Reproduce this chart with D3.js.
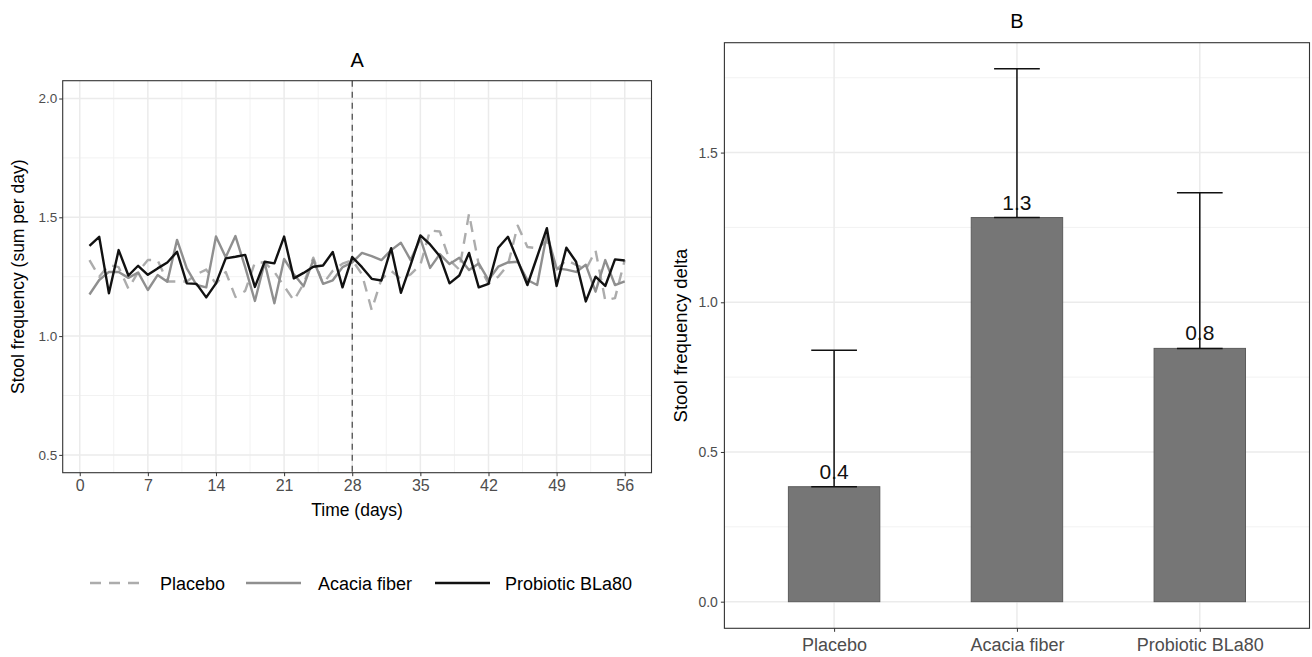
<!DOCTYPE html>
<html>
<head>
<meta charset="utf-8">
<script src="https://cdn.jsdelivr.net/npm/d3@7"></script>
<style>
    body { margin: 0; background: #fff; }
    svg text { font-family: "Liberation Sans", Arial, sans-serif; }
</style>
</head>
<body>
<div class="svg"></div>
<script>
// ---- panel A data: daily stool frequency (sum per day) ----
var days = [1, 2, 3, 4, 5, 6, 7, 8, 9, 10, 11, 12, 13, 14, 15, 16, 17, 18, 19, 20, 21, 22, 23, 24, 25, 26, 27, 28,
    29, 30, 31, 32, 33, 34, 35, 36, 37, 38, 39, 40, 41, 42, 43, 44, 45, 46, 47, 48, 49, 50, 51, 52, 53, 54, 55, 56];
var placeboDaily = [1.32, 1.25, 1.30, 1.29, 1.20, 1.27, 1.32, 1.32, 1.23, 1.23, 1.23, 1.26, 1.28, 1.22,
    1.27, 1.165, 1.19, 1.31, 1.31, 1.27, 1.21, 1.15, 1.22, 1.33, 1.22, 1.275, 1.305, 1.32,
    1.26, 1.11, 1.24, 1.275, 1.24, 1.26, 1.30, 1.445, 1.44, 1.32, 1.28, 1.515, 1.30, 1.22,
    1.25, 1.30, 1.465, 1.375, 1.37, 1.40, 1.28, 1.32, 1.30, 1.28, 1.36, 1.15, 1.16, 1.32];
var acaciaDaily = [1.175, 1.236, 1.27, 1.27, 1.245, 1.268, 1.194, 1.257, 1.229, 1.405, 1.285, 1.215, 1.205, 1.419,
    1.332, 1.421, 1.29, 1.148, 1.31, 1.138, 1.325, 1.26, 1.21, 1.32, 1.22, 1.235, 1.29, 1.31,
    1.35, 1.337, 1.32, 1.362, 1.393, 1.32, 1.41, 1.287, 1.345, 1.303, 1.33, 1.278, 1.306, 1.236,
    1.292, 1.31, 1.313, 1.236, 1.215, 1.43, 1.285, 1.28, 1.27, 1.30, 1.187, 1.32, 1.215, 1.23];
var probioticDaily = [1.38, 1.418, 1.18, 1.362, 1.255, 1.296, 1.258, 1.285, 1.31, 1.355, 1.222, 1.22, 1.163, 1.222,
    1.327, 1.334, 1.342, 1.207, 1.313, 1.306, 1.419, 1.243, 1.266, 1.292, 1.297, 1.354, 1.205, 1.333,
    1.29, 1.241, 1.234, 1.37, 1.182, 1.30, 1.424, 1.386, 1.336, 1.222, 1.255, 1.35, 1.205, 1.22,
    1.372, 1.418, 1.318, 1.215, 1.334, 1.454, 1.211, 1.372, 1.313, 1.146, 1.25, 1.211, 1.323, 1.318];
var interventionDay = 28;
var dayTicks = [0, 7, 14, 21, 28, 35, 42, 49, 56];
var freqTicks = [0.5, 1.0, 1.5, 2.0];

// ---- panel B data: change in stool frequency ----
var groups = ["Placebo", "Acacia fiber", "Probiotic BLa80"];
var deltaMean = [0.384, 1.283, 0.846];
var deltaSd = [0.456, 0.497, 0.520];
var deltaTicks = [0.0, 0.5, 1.0, 1.5];

var width = 1312, height = 657;
var svg;
var font = "Liberation Sans, Arial, sans-serif";

var setupSVG = function () {
    svg = d3.select("div.svg")
        .append("svg")
        .attr("width", width)
        .attr("height", height);
    svg.append("rect").attr("width", width).attr("height", height).attr("fill", "#fff");
};

var drawPanelA = function () {
    var left = 62.7, right = 651.5, top = 80.7, bottom = 472.7;
    // ggplot style 5% expansion around days 1..56 and the 0.5..2 limits
    var x = d3.scaleLinear().domain([-1.75, 58.75]).range([left, right]);
    var y = d3.scaleLinear().domain([0.425, 2.075]).range([bottom, top]);
    var g = svg.append("g");

    // minor grid
    var minorX = dayTicks.slice(0, -1).map(function (d) { return d + 3.5; });
    var minorY = freqTicks.slice(0, -1).map(function (d) { return d + 0.25; });
    g.selectAll("line.minx").data(minorX).enter().append("line")
        .attr("x1", function (d) { return x(d); }).attr("x2", function (d) { return x(d); })
        .attr("y1", top).attr("y2", bottom)
        .style("stroke", "#f2f2f2").style("stroke-width", 1);
    g.selectAll("line.miny").data(minorY).enter().append("line")
        .attr("x1", left).attr("x2", right)
        .attr("y1", function (d) { return y(d); }).attr("y2", function (d) { return y(d); })
        .style("stroke", "#f2f2f2").style("stroke-width", 1);
    // major grid
    g.selectAll("line.majx").data(dayTicks).enter().append("line")
        .attr("x1", function (d) { return x(d); }).attr("x2", function (d) { return x(d); })
        .attr("y1", top).attr("y2", bottom)
        .style("stroke", "#ebebeb").style("stroke-width", 1.5);
    g.selectAll("line.majy").data(freqTicks).enter().append("line")
        .attr("x1", left).attr("x2", right)
        .attr("y1", function (d) { return y(d); }).attr("y2", function (d) { return y(d); })
        .style("stroke", "#ebebeb").style("stroke-width", 1.5);

    // intervention marker
    g.append("line")
        .attr("x1", x(interventionDay)).attr("x2", x(interventionDay))
        .attr("y1", top).attr("y2", bottom)
        .style("stroke", "#444").style("stroke-width", 1.2)
        .style("stroke-dasharray", "6,5");

    var line = d3.line()
        .x(function (d) { return x(d[0]); })
        .y(function (d) { return y(d[1]); });

    var series = [
        {values: placeboDaily, color: "#acacac", dash: "11,8"},
        {values: acaciaDaily, color: "#8f8f8f", dash: null},
        {values: probioticDaily, color: "#111111", dash: null}
    ];
    series.forEach(function (s) {
        g.append("path")
            .datum(d3.zip(days, s.values))
            .attr("d", line)
            .style("fill", "none")
            .style("stroke", s.color)
            .style("stroke-width", 2.4)
            .style("stroke-linejoin", "round")
            .style("stroke-dasharray", s.dash);
    });

    // frame
    g.append("rect")
        .attr("x", left).attr("y", top)
        .attr("width", right - left).attr("height", bottom - top)
        .style("fill", "none").style("stroke", "#333").style("stroke-width", 1.1);

    // axes
    var xAxis = d3.axisBottom(x).tickValues(dayTicks).tickSize(3.5).tickPadding(3);
    var yAxis = d3.axisLeft(y).tickValues(freqTicks).tickFormat(d3.format(".1f")).tickSize(3.5).tickPadding(2);
    var gx = g.append("g").attr("transform", "translate(0," + bottom + ")").call(xAxis);
    var gy = g.append("g").attr("transform", "translate(" + left + ",0)").call(yAxis);
    [gx, gy].forEach(function (a) {
        a.select(".domain").remove();
        a.selectAll(".tick line").style("stroke", "#333");
        a.selectAll("text").style("fill", "#4d4d4d").style("font-family", font);
    });
    gx.selectAll("text").style("font-size", "16px");
    gy.selectAll("text").style("font-size", "13.5px");

    svg.append("text")
        .attr("x", (left + right) / 2).attr("y", 516)
        .attr("text-anchor", "middle")
        .style("font-size", "17.5px")
        .text("Time (days)");
    svg.append("text")
        .attr("transform", "translate(24," + ((top + bottom) / 2) + ") rotate(-90)")
        .attr("text-anchor", "middle")
        .style("font-size", "17.5px")
        .text("Stool frequency (sum per day)");
    svg.append("text")
        .attr("x", (left + right) / 2).attr("y", 67)
        .attr("text-anchor", "middle")
        .style("font-size", "20px")
        .text("A");

    // legend
    var legend = [
        {name: "Placebo", color: "#acacac", dash: "11,8", x0: 90, tx: 160},
        {name: "Acacia fiber", color: "#8f8f8f", dash: null, x0: 246, tx: 318},
        {name: "Probiotic BLa80", color: "#111111", dash: null, x0: 435, tx: 505}
    ];
    legend.forEach(function (l) {
        svg.append("line")
            .attr("x1", l.x0).attr("x2", l.x0 + 55)
            .attr("y1", 583).attr("y2", 583)
            .style("stroke", l.color).style("stroke-width", 2.4)
            .style("stroke-dasharray", l.dash);
        svg.append("text")
            .attr("x", l.tx).attr("y", 589.5)
            .style("font-size", "18px")
            .text(l.name);
    });
};

var drawPanelB = function () {
    var left = 724.4, right = 1309.5, top = 42.7, bottom = 628.3;
    var x = d3.scalePoint().domain(groups).range([left, right]).padding(0.6);
    var y = d3.scaleLinear().domain([-0.0889, 1.867]).range([bottom, top]);
    var step = x.step();
    var g = svg.append("g");
    var data = groups.map(function (name, i) {
        return {name: name, mean: deltaMean[i], sd: deltaSd[i]};
    });

    var minorY = deltaTicks.map(function (d) { return d + 0.25; });
    g.selectAll("line.miny").data(minorY).enter().append("line")
        .attr("x1", left).attr("x2", right)
        .attr("y1", function (d) { return y(d); }).attr("y2", function (d) { return y(d); })
        .style("stroke", "#f2f2f2").style("stroke-width", 1);
    g.selectAll("line.majy").data(deltaTicks).enter().append("line")
        .attr("x1", left).attr("x2", right)
        .attr("y1", function (d) { return y(d); }).attr("y2", function (d) { return y(d); })
        .style("stroke", "#ebebeb").style("stroke-width", 1.5);
    g.selectAll("line.majx").data(groups).enter().append("line")
        .attr("x1", function (d) { return x(d); }).attr("x2", function (d) { return x(d); })
        .attr("y1", top).attr("y2", bottom)
        .style("stroke", "#ebebeb").style("stroke-width", 1.5);

    // bars
    g.selectAll("rect.bar").data(data).enter().append("rect")
        .attr("class", "bar")
        .attr("x", function (d) { return x(d.name) - step * 0.25; })
        .attr("width", step * 0.5)
        .attr("y", function (d) { return y(d.mean); })
        .attr("height", function (d) { return y(0) - y(d.mean); })
        .style("fill", "#767676")
        .style("stroke", "#5c5c5c")
        .style("stroke-width", 1);

    // error bars (mean to mean + sd)
    var cap = step * 0.125;
    data.forEach(function (d) {
        var cx = x(d.name);
        g.append("line")
            .attr("x1", cx).attr("x2", cx)
            .attr("y1", y(d.mean)).attr("y2", y(d.mean + d.sd))
            .style("stroke", "#111").style("stroke-width", 1.5);
        [d.mean, d.mean + d.sd].forEach(function (v) {
            g.append("line")
                .attr("x1", cx - cap).attr("x2", cx + cap)
                .attr("y1", y(v)).attr("y2", y(v))
                .style("stroke", "#111").style("stroke-width", 1.5);
        });
        g.append("text")
            .attr("x", cx).attr("y", y(d.mean) - 8)
            .attr("text-anchor", "middle")
            .style("font-size", "21px")
            .style("fill", "#111")
            .text(d3.format(".1f")(d.mean));
    });

    g.append("rect")
        .attr("x", left).attr("y", top)
        .attr("width", right - left).attr("height", bottom - top)
        .style("fill", "none").style("stroke", "#333").style("stroke-width", 1.1);

    var xAxis = d3.axisBottom(x).tickSize(3.5).tickPadding(6);
    var yAxis = d3.axisLeft(y).tickValues(deltaTicks).tickFormat(d3.format(".1f")).tickSize(3.5).tickPadding(3);
    var gx = g.append("g").attr("transform", "translate(0," + bottom + ")").call(xAxis);
    var gy = g.append("g").attr("transform", "translate(" + left + ",0)").call(yAxis);
    [gx, gy].forEach(function (a) {
        a.select(".domain").remove();
        a.selectAll(".tick line").style("stroke", "#333");
        a.selectAll("text").style("fill", "#4d4d4d").style("font-family", font);
    });
    gx.selectAll("text").style("font-size", "18px");
    gy.selectAll("text").style("font-size", "14px");

    svg.append("text")
        .attr("transform", "translate(687," + ((top + bottom) / 2) + ") rotate(-90)")
        .attr("text-anchor", "middle")
        .style("font-size", "18.5px")
        .text("Stool frequency delta");
    svg.append("text")
        .attr("x", (left + right) / 2).attr("y", 28)
        .attr("text-anchor", "middle")
        .style("font-size", "20px")
        .text("B");
};

setupSVG();
drawPanelA();
drawPanelB();
</script>
</body>
</html>
